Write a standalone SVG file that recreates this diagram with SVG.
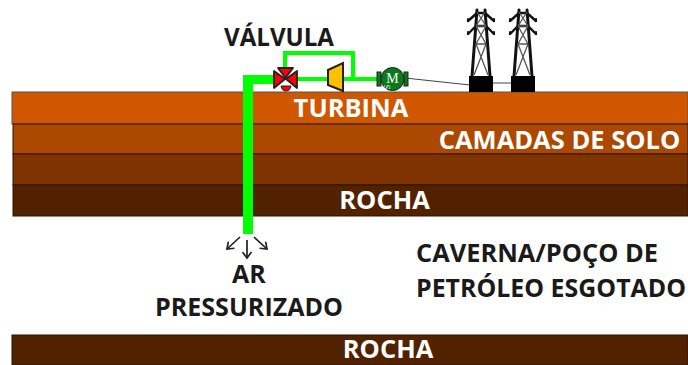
<svg xmlns="http://www.w3.org/2000/svg" width="688" height="365" viewBox="0 0 688 365">
<style>
text{font-family:"Open Sans","Noto Sans",sans-serif;font-weight:700;font-size:25px}
.w{fill:#fff;font-size:25.500px}
.k{fill:#1a1a1a}
.layer{stroke:#2a1200;stroke-width:1}
.pipe{fill:none;stroke:#00ff00;stroke-width:4}
.tower{fill:none;stroke:#111;stroke-linecap:round}
.brace{fill:none;stroke:#555;stroke-width:1.3}
.arrow{fill:none;stroke:#222;stroke-width:1.7}
</style>
<defs>
<marker id="tip" markerWidth="10" markerHeight="10" refX="7" refY="5" orient="auto" markerUnits="userSpaceOnUse"><path d="M1 0.500L7 5L1 9.500" fill="none" stroke="#222" stroke-width="1.7"/></marker>
<g id="pylon">
<path class="tower" stroke-width="3" d="M0 76L5 10M18 76L13 10"/>
<path class="tower" stroke-width="2.400" d="M-4 21L5 13L13 13L22 21M-4 34L4 26L14 26L22 34"/>
<path class="tower" stroke-width="2" d="M-4 21L-4 19M22 21L22 19M-4 34L-4 32M22 34L22 32"/>
<path class="brace" d="M5 12L14 26M13 12L4 26M4 26L14 44M14 26L4 44M4 44L16 75M14 44L2 75M4 26H14M4 44H14"/>
<rect x="-3" y="76" width="24" height="16" fill="#000"/>
</g>
</defs>
<g id="camadas">
<rect x="12" y="92" width="676" height="32" fill="#d05600" stroke="#555" stroke-width="1"/>
<rect class="layer" x="13" y="124" width="675" height="30" fill="#ad4800"/>
<rect class="layer" x="13" y="154" width="675" height="31" fill="#7f3400"/>
<rect class="layer" x="13" y="185" width="675" height="31" fill="#522200"/>
<rect class="layer" x="12" y="335" width="676" height="30" fill="#522200"/>
</g>
<g id="connectors">
<path d="M405 78L470 85M493 83H511" stroke="#444" stroke-width="1" fill="none"/>
<path class="pipe" d="M285 70V53H353V79"/>
<path class="pipe" d="M296 79H330M342 79H380"/>
<path d="M243 234V75H274V84H253V234Z" fill="#00ff00"/>
<path class="arrow" marker-end="url(#tip)" d="M240 237L227 249"/>
<path class="arrow" marker-end="url(#tip)" d="M247 240V258"/>
<path class="arrow" marker-end="url(#tip)" d="M254 237L267 249"/>
</g>
<g id="valvula">
<path d="M274 71L285 79L274 88ZM297 71L286 79L297 88Z" fill="#f00" stroke="#222" stroke-width="1.800" stroke-linejoin="round"/>
<path d="M278 68H293L285.500 78Z" fill="#f00" stroke="#222" stroke-width="1.800" stroke-linejoin="round"/>
<path d="M281 86H291Q290 91 286 91Q282 91 281 86Z" fill="#f00" stroke="#222" stroke-width="1"/>
</g>
<g id="turbina">
<path d="M328 70L343 63V91L328 85Z" fill="#ffc000" stroke="#222" stroke-width="2"/>
</g>
<g id="motor">
<rect x="377" y="72" width="4" height="14" fill="#0a7a1a" stroke="#222" stroke-width="1"/>
<rect x="404" y="72" width="4" height="14" fill="#0a7a1a" stroke="#222" stroke-width="1"/>
<circle cx="392.500" cy="79" r="11.500" fill="#0a7a1a" stroke="#222" stroke-width="1"/>
<text x="392.500" y="83" text-anchor="middle" style="font:14px 'Liberation Serif',serif;fill:#fff">M</text>
<text transform="translate(389.500 87) rotate(-90)" text-anchor="middle" style="font:8px 'Liberation Serif',serif;fill:#fff" x="0" y="0">S</text>
</g>
<g id="torres">
<use href="#pylon" x="472" y="0"/>
<use href="#pylon" x="514" y="0"/>
</g>
<g id="rotulos">
<text class="k" x="279" y="46" text-anchor="middle" textLength="110" lengthAdjust="spacingAndGlyphs">VÁLVULA</text>
<text class="w" x="351" y="117" text-anchor="middle">TURBINA</text>
<text class="w" x="559.500" y="149" text-anchor="middle">CAMADAS DE SOLO</text>
<text class="w" x="384.500" y="209" text-anchor="middle">ROCHA</text>
<text class="k" x="249" y="283" text-anchor="middle">AR</text>
<text class="k" x="249" y="316" text-anchor="middle" textLength="188" lengthAdjust="spacingAndGlyphs">PRESSURIZADO</text>
<text class="k" x="416" y="262" textLength="242" lengthAdjust="spacingAndGlyphs">CAVERNA/POÇO DE</text>
<text class="k" x="416" y="297" textLength="270" lengthAdjust="spacingAndGlyphs">PETRÓLEO ESGOTADO</text>
<text class="w" x="388" y="358" text-anchor="middle">ROCHA</text>
</g>
</svg>
